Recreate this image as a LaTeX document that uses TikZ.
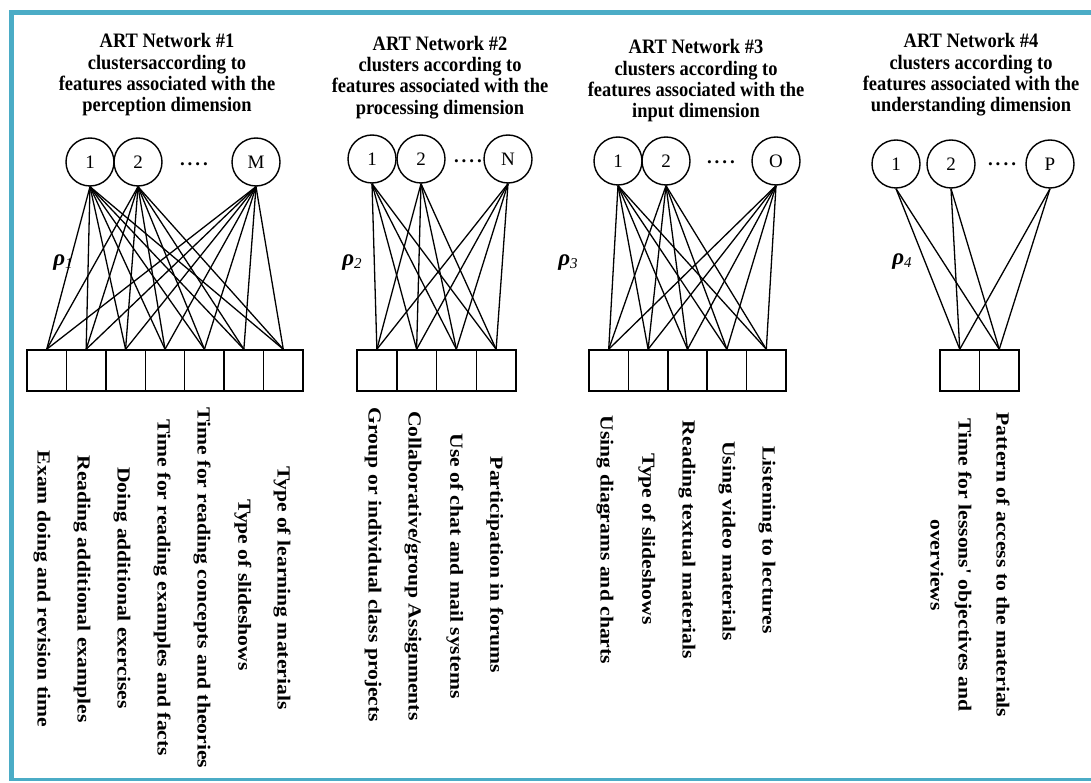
\documentclass[tikz,border=0pt]{standalone}
\usepackage{fontspec}
\setmainfont{Liberation Serif}
\newfontfamily\titlefont[FakeStretch=0.9]{Liberation Serif}
\newfontfamily\labelfont[FakeStretch=1.17]{Liberation Serif}
\definecolor{frameblue}{RGB}{75,172,198}
\tikzset{
  unit/.style={circle, draw, line width=1.4pt, minimum size=48pt, inner sep=0pt, font=\fontsize{19}{19}\selectfont},
  inbox/.style={draw, line width=1.5pt, minimum width=#1, minimum height=41pt, inner sep=0pt},
  link/.style={line width=1.3pt},
  nettitle/.style={align=center, inner sep=0pt, font=\titlefont\bfseries\fontsize{20.5}{21.3}\selectfont},
  featlab/.style={rotate=-90, inner sep=0pt, align=center, font=\labelfont\bfseries\fontsize{18.5}{28}\selectfont},
  dotsnode/.style={inner sep=0pt, anchor=base, font=\bfseries\fontsize{19}{19}\selectfont},
  rholab/.style={inner sep=0pt}
}
\newcommand{\rhosym}[1]{{\bfseries\itshape\fontsize{23}{23}\selectfont ρ}{\itshape\fontsize{15}{15}\selectfont\raisebox{-3pt}{#1}}}
\newcommand{\fourdots}{.\kern3pt.\kern3pt.\kern3pt.}
\begin{document}
\begin{tikzpicture}[x=1pt,y=-1pt]
\useasboundingbox (0,0) rectangle (1091,783);
% frame
\fill[frameblue] (9,10) rectangle (1091,15);
\fill[frameblue] (9,10) rectangle (14,781);
\fill[frameblue] (9,778) rectangle (1091,781);

% ---------- Network 1 ----------
\node[nettitle] (t1) at (167,75) {ART Network \#1\\clustersaccording to\\features associated with the\\perception dimension};
\node[unit] (ca1) at (90,162) {1};
\node[unit] (ca2) at (138,162) {2};
\node[unit] (caM) at (256,162) {M};
\node[dotsnode] (d1) at (194,166) {\fourdots};
\foreach \i in {1,...,7} \node[inbox=39.43pt] (a\i) at ({27+(\i-0.5)*39.43},370.5) {};
\foreach \c in {1,2,M} \foreach \i in {1,...,7} \draw[link] (ca\c.south) -- (a\i.north);
\node[rholab] (r1) at (63,263) {\rhosym{1}};
\node[featlab] (l1-7) at (282,588) {Type of learning materials};
\node[featlab] (l1-6) at (243,585) {Type of slideshows};
\node[featlab] (l1-5) at (202,588) {Time for reading concepts and theories};
\node[featlab] (l1-4) at (162,588) {Time for reading examples and facts};
\node[featlab] (l1-3) at (122,588) {Doing additional exercises};
\node[featlab] (l1-2) at (82,589) {Reading additional examples};
\node[featlab] (l1-1) at (42,589) {Exam doing and revision time};

% ---------- Network 2 ----------
\node[nettitle] (t2) at (440,77.5) {ART Network \#2\\clusters according to\\features associated with the\\processing dimension};
\node[unit] (cb1) at (372,159) {1};
\node[unit] (cb2) at (421,159) {2};
\node[unit] (cbN) at (508,159) {N};
\node[dotsnode] (d2) at (468,163) {\fourdots};
\foreach \i in {1,...,4} \node[inbox=39.75pt] (b\i) at ({357+(\i-0.5)*39.75},370.5) {};
\foreach \c in {1,2,N} \foreach \i in {1,...,4} \draw[link] (cb\c.south) -- (b\i.north);
\node[rholab] (r2) at (352,263) {\rhosym{2}};
\node[featlab] (l2-4) at (495,565) {Participation in forums};
\node[featlab] (l2-3) at (455,566) {Use of chat and mail systems};
\node[featlab] (l2-2) at (413,566) {Collaborative/group Assignments};
\node[featlab] (l2-1) at (373,565) {Group or individual class projects};

% ---------- Network 3 ----------
\node[nettitle] (t3) at (696,81) {ART Network \#3\\clusters according to\\features associated with the\\input dimension};
\node[unit] (cc1) at (618,161) {1};
\node[unit] (cc2) at (666,161) {2};
\node[unit] (ccO) at (776,161) {O};
\node[dotsnode] (d3) at (721,164) {\fourdots};
\foreach \i in {1,...,5} \node[inbox=39.4pt] (c\i) at ({589+(\i-0.5)*39.4},370.5) {};
\foreach \c in {1,2,O} \foreach \i in {1,...,5} \draw[link] (cc\c.south) -- (c\i.north);
\node[rholab] (r3) at (568,263) {\rhosym{3}};
\node[featlab] (l3-5) at (767,540) {Listening to lectures};
\node[featlab] (l3-4) at (727,541) {Using video materials};
\node[featlab] (l3-3) at (687,540) {Reading textual materials};
\node[featlab] (l3-2) at (647,539) {Type of slideshows};
\node[featlab] (l3-1) at (605,540) {Using diagrams and charts};

% ---------- Network 4 ----------
\node[nettitle] (t4) at (971,75) {ART Network \#4\\clusters according to\\features associated with the\\understanding dimension};
\node[unit] (cd1) at (896,164) {1};
\node[unit] (cd2) at (951,164) {2};
\node[unit] (cdP) at (1050,164) {P};
\node[dotsnode] (d4) at (1002,166) {\fourdots};
\foreach \i in {1,2} \node[inbox=39.5pt] (e\i) at ({940+(\i-0.5)*39.5},370.5) {};
\foreach \c in {1,2,P} \foreach \i in {1,2} \draw[link] (cd\c.south) -- (e\i.north);
\node[rholab] (r4) at (902,262) {\rhosym{4}};
\node[featlab] (l4-2) at (1003,565) {Pattern of access to the materials};
\node[featlab] (l4-1) at (951,565) {Time for lessons' objectives and\\overviews};
\end{tikzpicture}
\end{document}
